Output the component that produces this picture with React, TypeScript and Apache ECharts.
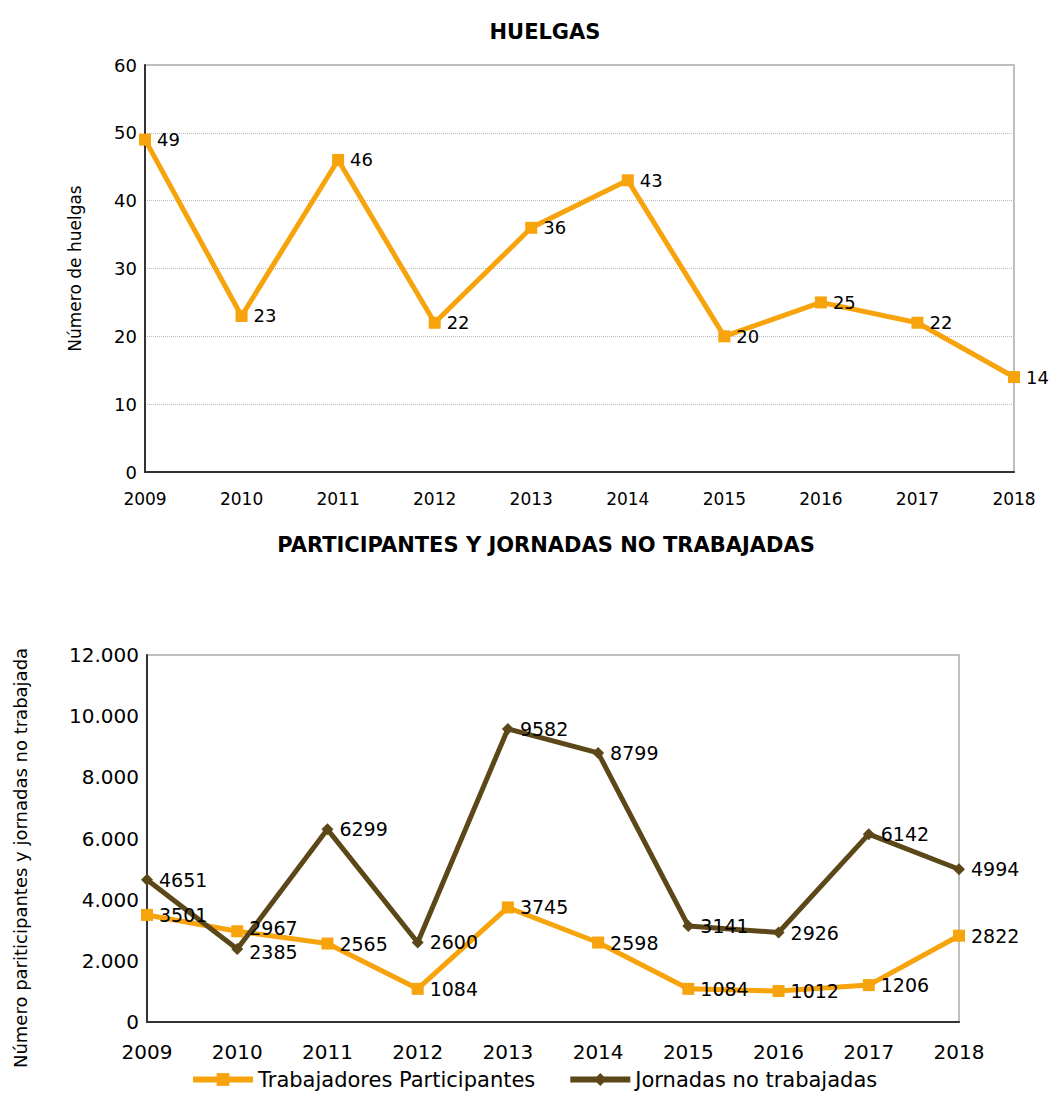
import React, { useEffect, useRef } from "react";
import * as echarts from "echarts";

const years = ["2009", "2010", "2011", "2012", "2013", "2014", "2015", "2016", "2017", "2018"];
const huelgas = [49, 23, 46, 22, 36, 43, 20, 25, 22, 14];
const trabajadores = [3501, 2967, 2565, 1084, 3745, 2598, 1084, 1012, 1206, 2822];
const jornadas = [4651, 2385, 6299, 2600, 9582, 8799, 3141, 2926, 6142, 4994];

const ORANGE = "#F7A30C";
const BROWN = "#5B4718";
const FONT = "DejaVu Sans";

export default function App() {
  const ref = useRef<HTMLDivElement>(null);
  useEffect(() => {
    if (!ref.current) return;
    const chart = echarts.init(ref.current, null, { renderer: "svg" });
    const fmt = (v: number) => String(v).replace(/\B(?=(\d{3})+(?!\d))/g, ".");
    const trabData = trabajadores.map((v, i) => (i === 1 ? { value: v, label: { offset: [0, -3] } } : v));
    const jornData = jornadas.map((v, i) => (i === 1 ? { value: v, label: { offset: [0, 3] } } : v));
    chart.setOption({
      animation: false,
      backgroundColor: "#fff",
      textStyle: { fontFamily: FONT, color: "#000" },
      title: [
        { text: "HUELGAS", left: 540, top: 16, textAlign: "center", textStyle: { fontFamily: FONT, fontSize: 21, fontWeight: "bold", color: "#000" } },
        { text: "PARTICIPANTES Y JORNADAS NO TRABAJADAS", left: 541, top: 529, textAlign: "center", textStyle: { fontFamily: FONT, fontSize: 21, fontWeight: "bold", color: "#000" } },
      ],
      graphic: [
        {
          type: "text",
          x: 20,
          y: 858,
          rotation: Math.PI / 2,
          style: { text: "Número pariticipantes y jornadas no trabajada", fontFamily: FONT, fontSize: 18, fill: "#000", align: "center", verticalAlign: "middle" },
        },
      ],
      legend: {
        bottom: 0,
        left: 185,
        itemWidth: 60,
        itemHeight: 16,
        itemGap: 32,
        textStyle: { fontFamily: FONT, fontSize: 21, color: "#000" },
        data: [
          { name: "Trabajadores Participantes", lineStyle: { width: 6 } },
          { name: "Jornadas no trabajadas", lineStyle: { width: 6 } },
        ],
      },
      grid: [
        { left: 145, right: 36, top: 65, bottom: 623, show: true, borderColor: "#aaa", borderWidth: 1.5, backgroundColor: "transparent" },
        { left: 147, right: 91, top: 655, bottom: 73, show: true, borderColor: "#aaa", borderWidth: 1.5, backgroundColor: "transparent" },
      ],
      xAxis: [
        {
          type: "category", gridIndex: 0, data: years, boundaryGap: false,
          axisLine: { lineStyle: { color: "#333", width: 2 } }, axisTick: { show: false },
          axisLabel: { fontFamily: FONT, fontSize: 17, color: "#000", margin: 18 },
        },
        {
          type: "category", gridIndex: 1, data: years, boundaryGap: false,
          axisLine: { lineStyle: { color: "#333", width: 2 } }, axisTick: { show: false },
          axisLabel: { fontFamily: FONT, fontSize: 20, color: "#000", margin: 20 },
        },
      ],
      yAxis: [
        {
          type: "value", gridIndex: 0, min: 0, max: 60, interval: 10,
          name: "Número de huelgas", nameLocation: "middle", nameGap: 62,
          nameTextStyle: { fontFamily: FONT, fontSize: 17, color: "#000" },
          axisLine: { show: true, lineStyle: { color: "#333", width: 2 } }, axisTick: { show: false },
          axisLabel: { fontFamily: FONT, fontSize: 18, color: "#000", margin: 8 },
          splitLine: { show: true, lineStyle: { color: "#bbb", type: "dotted", width: 1 } },
        },
        {
          type: "value", gridIndex: 1, min: 0, max: 12000, interval: 2000,
          axisLine: { show: true, lineStyle: { color: "#333", width: 2 } }, axisTick: { show: false },
          axisLabel: { fontFamily: FONT, fontSize: 20, color: "#000", margin: 8, formatter: fmt },
          splitLine: { show: false },
        },
      ],
      series: [
        {
          name: "Huelgas", type: "line", xAxisIndex: 0, yAxisIndex: 0, data: huelgas,
          symbol: "rect", symbolSize: 12, lineStyle: { color: ORANGE, width: 5 }, itemStyle: { color: ORANGE },
          label: { show: true, position: "right", distance: 6, fontFamily: FONT, fontSize: 18, color: "#000" },
        },
        {
          name: "Trabajadores Participantes", type: "line", xAxisIndex: 1, yAxisIndex: 1, data: trabData,
          symbol: "rect", symbolSize: 12, lineStyle: { color: ORANGE, width: 5 }, itemStyle: { color: ORANGE },
          label: { show: true, position: "right", distance: 6, fontFamily: FONT, fontSize: 19, color: "#000" },
        },
        {
          name: "Jornadas no trabajadas", type: "line", xAxisIndex: 1, yAxisIndex: 1, data: jornData,
          symbol: "diamond", symbolSize: 12, lineStyle: { color: BROWN, width: 5 }, itemStyle: { color: BROWN },
          label: { show: true, position: "right", distance: 6, fontFamily: FONT, fontSize: 19, color: "#000" },
        },
      ],
    });
    return () => chart.dispose();
  }, []);
  return (
    <div
      ref={ref}
      style={{ position: "absolute", left: 0, top: 0, width: 1050, height: 1095 }}
    />
  );
}
